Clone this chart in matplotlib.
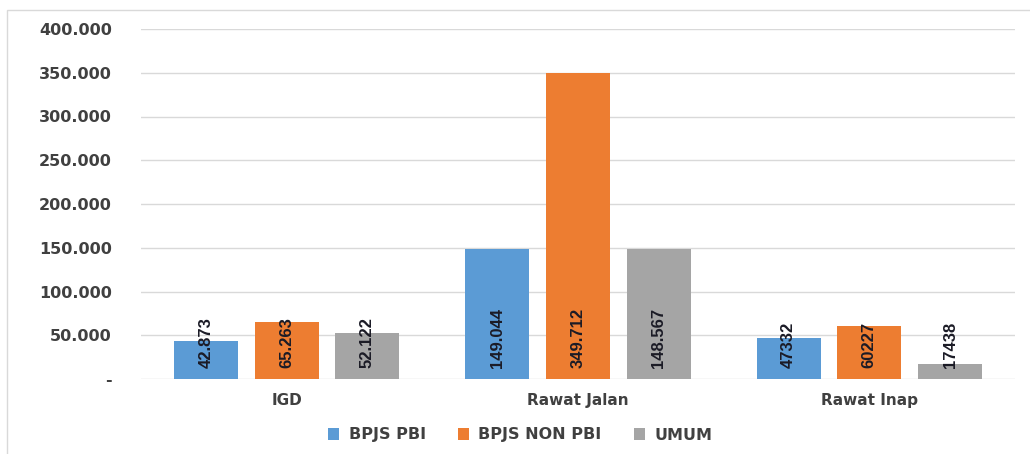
import matplotlib
matplotlib.use("Agg")
import matplotlib.pyplot as plt
from matplotlib.patches import Rectangle
from matplotlib.ticker import FixedLocator, FuncFormatter
import numpy as np

categories = ["IGD", "Rawat Jalan", "Rawat Inap"]
series_names = ["BPJS PBI", "BPJS NON PBI", "UMUM"]
bpjs_pbi = [42873, 149044, 47332]
bpjs_non_pbi = [65263, 349712, 60227]
umum = [52122, 148567, 17438]
label_texts = [["42.873", "149.044", "47332"],
               ["65.263", "349.712", "60227"],
               ["52.122", "148.567", "17438"]]
y_ticks = [0, 50000, 100000, 150000, 200000, 250000, 300000, 350000, 400000]

colors = ["#5B9BD5", "#ED7D31", "#A5A5A5"]
values = [bpjs_pbi, bpjs_non_pbi, umum]

fig = plt.figure(figsize=(10.30, 4.54), dpi=100)
fig.patch.set_facecolor("white")
# outer chart border (right and bottom edges lie outside the image)
fig.patches.append(Rectangle((7/1030, -5/454), 1040/1030, 449/454, transform=fig.transFigure,
                             fill=False, edgecolor="#d9d9d9", linewidth=1.0))

ax = fig.add_axes([141/1030, 75/454, 874/1030, 350/454])
x = np.arange(len(categories))
width = 0.219
offset = 0.277
label_font = ["Liberation Sans", "DejaVu Sans"]
for i, (name, vals, col) in enumerate(zip(series_names, values, colors)):
    pos = x + (i - 1) * offset
    ax.bar(pos, vals, width=width, color=col, label=name, zorder=3)
    for p, v, t in zip(pos, vals, label_texts[i]):
        ax.annotate(t, xy=(p, 0), xytext=(0, 8), textcoords="offset points",
                    rotation=90, ha="center", va="bottom", fontsize=12,
                    fontweight="bold", family=label_font, color="#1b1b26", zorder=4)

ax.set_xlim(-0.5, 2.5)
ax.set_ylim(0, 400000)
ax.yaxis.set_major_locator(FixedLocator(y_ticks))

def fmt(v, _):
    if v == 0:
        return "-"
    return f"{int(v):,}".replace(",", ".")

ax.yaxis.set_major_formatter(FuncFormatter(fmt))
ax.grid(axis="y", color="#d9d9d9", linewidth=1.0, zorder=0)
for s in ax.spines.values():
    s.set_visible(False)
ax.tick_params(axis="y", length=0, pad=21, labelsize=11.5, labelcolor="#404040")
ax.tick_params(axis="x", length=0, pad=10, labelsize=11, labelcolor="#404040")
ax.set_xticks(x)
ax.set_xticklabels(categories)
for lbl in ax.get_yticklabels() + ax.get_xticklabels():
    lbl.set_fontweight("bold")

leg = fig.legend(loc="center", bbox_to_anchor=(0.505, 1 - 435/454), ncol=3, frameon=False,
                 handlelength=0.7, handleheight=0.7, columnspacing=2.0, handletextpad=0.6,
                 prop={"weight": "bold", "size": 11.5})
for t in leg.get_texts():
    t.set_color("#404040")

fig.savefig("out.png", dpi=100, facecolor="white")
